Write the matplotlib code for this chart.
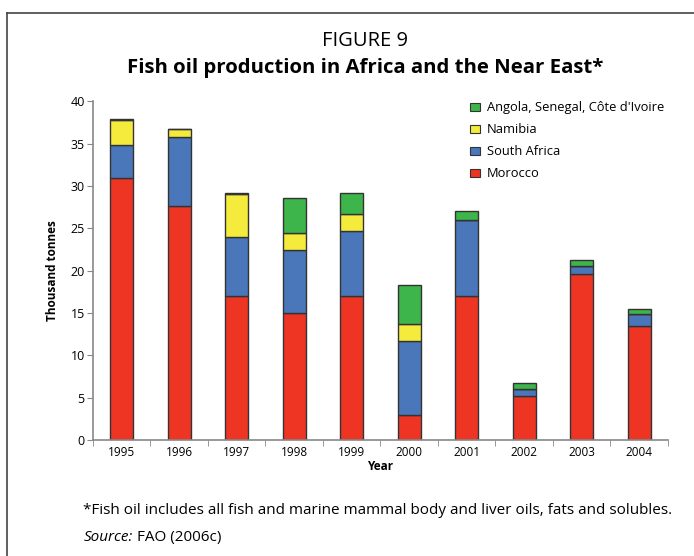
import numpy as np
import matplotlib.pyplot as plt
from matplotlib.lines import Line2D
from matplotlib.patches import Patch

plt.rcParams['font.family'] = ['Open Sans', 'DejaVu Sans']

# Data (thousand tonnes)
years = ['1995', '1996', '1997', '1998', '1999', '2000', '2001', '2002', '2003', '2004']
morocco = [31.0, 27.7, 17.0, 15.0, 17.0, 2.95, 17.0, 5.2, 19.65, 13.5]
south_africa = [3.9, 8.1, 7.0, 7.5, 7.7, 8.7, 8.95, 0.8, 0.95, 1.4]
namibia = [2.9, 0.9, 5.1, 1.9, 2.0, 2.05, 0.0, 0.0, 0.0, 0.0]
angola_etc = [0.1, 0.1, 0.1, 4.2, 2.45, 4.6, 1.05, 0.7, 0.7, 0.6]

series = [
    ('Morocco', morocco, '#ee3524'),
    ('South Africa', south_africa, '#4a76ba'),
    ('Namibia', namibia, '#f4eb3c'),
    ("Angola, Senegal, Côte d'Ivoire", angola_etc, '#3eb54a'),
]

fig = plt.figure(figsize=(6.94, 5.56), dpi=100)
ax = fig.add_axes([0.134, 0.2086, 0.8285, 0.609])

x = np.arange(len(years))
bottom = np.zeros(len(years))
for name, vals, col in series:
    vals = np.array(vals)
    ax.bar(x, vals, 0.4, bottom=bottom, color=col, edgecolor='#333333', linewidth=1.0)
    bottom += vals

ax.set_xlim(-0.5, len(years) - 0.5)
ax.set_ylim(0, 40)
ax.set_yticks(range(0, 41, 5))
ax.set_xticks(x)
ax.set_xticklabels(years, fontsize=8.5)
ax.set_xticks(np.arange(-0.5, len(years), 1), minor=True)
ax.tick_params(axis='x', which='major', length=0, pad=4)
ax.tick_params(axis='x', which='minor', length=4, color='#888888', direction='out')
ax.tick_params(axis='y', labelsize=9, length=4, color='#888888', pad=2)
for s in ['top', 'right']:
    ax.spines[s].set_visible(False)
for s in ['left', 'bottom']:
    ax.spines[s].set_color('#888888')
    ax.spines[s].set_linewidth(1.2)

ax.set_xlabel('Year', fontsize=8.5, fontweight='bold', labelpad=1)
ax.set_ylabel('Thousand tonnes', fontsize=8.5, fontweight='bold', labelpad=8)

handles = [Patch(facecolor=col, edgecolor='#333333', linewidth=0.8, label=name)
           for name, vals, col in reversed(series)]
ax.legend(handles=handles, loc='upper left', bbox_to_anchor=(0.635, 1.035), frameon=False,
          fontsize=9.3, handlelength=0.8, handleheight=0.6, handletextpad=0.5, labelspacing=0.7)

fig.text(0.526, 0.926, 'FIGURE 9', ha='center', va='center', fontsize=14.5)
fig.text(0.526, 0.878, 'Fish oil production in Africa and the Near East*', ha='center', va='center',
         fontsize=14.7, fontweight='bold')
fig.text(0.12, 0.081, '*Fish oil includes all fish and marine mammal body and liver oils, fats and solubles.',
         ha='left', va='center', fontsize=11)
src = fig.text(0.12, 0.034, 'Source:', ha='left', va='center', fontsize=11, style='italic')
fig.canvas.draw()
bb = src.get_window_extent().transformed(fig.transFigure.inverted())
fig.text(bb.x1 + 0.006, 0.034, 'FAO (2006c)', ha='left', va='center', fontsize=11)

# frame around the figure
fig.add_artist(Line2D([0.0105, 0.0105], [0.0, 0.977], color='#444444', linewidth=1.2))
fig.add_artist(Line2D([0.0105, 1.0], [0.977, 0.977], color='#444444', linewidth=1.2))

fig.savefig('out.png', dpi=100)
